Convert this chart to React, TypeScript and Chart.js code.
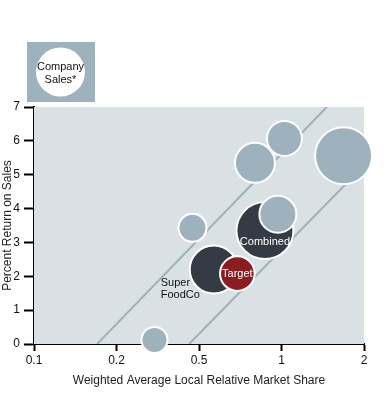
import React, { useEffect, useRef } from "react";
import { Chart, registerables } from "chart.js";

Chart.register(...registerables);

// Axis ticks (market share) and y range
const xTickValues = [0.1, 0.2, 0.5, 1, 2];
const yMin = 0;
const yMax = 7;

// Bubble data: market share, return on sales, company sales (bubble radius units)
const companyNames = ["", "", "", "", "", "Super FoodCo", "Target", "Combined", ""];
const marketShare = [0.305, 0.465, 0.8, 1.025, 1.684, 0.566, 0.69, 0.87, 0.97];
const returnOnSales = [0.12, 3.43, 5.35, 6.07, 5.56, 2.2, 2.08, 3.35, 3.83];
const companySales = [13, 14, 20, 17.5, 28.5, 24, 17.3, 28.5, 18.5];
const companyKind = ["peer", "peer", "peer", "peer", "peer", "dark", "target", "dark", "peer"];

// Diagonal reference bands (market share, return on sales)
const upperLineX = [0.17, 1.463];
const upperLineY = [0, 7];
const lowerLineX = [0.448, 2];
const lowerLineY = [0, 5.27];

const LIGHT = "#9db2bc";
const DARK = "#343b45";
const RED = "#8b1d21";
const PLOT_BG = "#d9e1e4";
const FONT = "'Liberation Sans', Arial, Helvetica, sans-serif";

// Map market share onto evenly spaced tick positions (log within each segment)
function toAxis(v: number): number {
  for (let i = 0; i < xTickValues.length - 1; i++) {
    const a = xTickValues[i];
    const b = xTickValues[i + 1];
    if (v <= b || i === xTickValues.length - 2) {
      return i + Math.log(v / a) / Math.log(b / a);
    }
  }
  return 0;
}

const colorOf = (k: string) => (k === "dark" ? DARK : k === "target" ? RED : LIGHT);

export default function App() {
  const ref = useRef<HTMLCanvasElement | null>(null);

  useEffect(() => {
    if (!ref.current) return;

    const bgPlugin = {
      id: "plotBg",
      beforeDatasetsDraw(chart: any) {
        const { ctx, chartArea } = chart;
        ctx.save();
        ctx.fillStyle = PLOT_BG;
        ctx.fillRect(chartArea.left, chartArea.top, chartArea.right - chartArea.left, chartArea.bottom - chartArea.top);
        ctx.restore();
      },
    };

    const legendPlugin = {
      id: "sizeLegend",
      afterDraw(chart: any) {
        const { ctx } = chart;
        ctx.save();
        ctx.fillStyle = LIGHT;
        ctx.fillRect(27, 42, 68, 60);
        ctx.beginPath();
        ctx.arc(60.5, 72, 24.5, 0, Math.PI * 2);
        ctx.fillStyle = "#ffffff";
        ctx.fill();
        ctx.fillStyle = "#111";
        ctx.font = `11px ${FONT}`;
        ctx.textAlign = "center";
        ctx.textBaseline = "middle";
        ctx.fillText("Company", 60.5, 66.5);
        ctx.fillText("Sales*", 60.5, 80);
        ctx.restore();
      },
    };

    const labelPlugin = {
      id: "bubbleLabels",
      afterDatasetsDraw(chart: any) {
        const { ctx } = chart;
        const meta = chart.getDatasetMeta(0);
        ctx.save();
        ctx.font = `11px ${FONT}`;
        ctx.textBaseline = "middle";
        companyNames.forEach((name, i) => {
          if (!name) return;
          const el = meta.data[i];
          if (name === "Combined") {
            ctx.fillStyle = "#ffffff";
            ctx.textAlign = "center";
            ctx.fillText(name, el.x, el.y + 11);
          } else if (name === "Target") {
            ctx.fillStyle = "#ffffff";
            ctx.textAlign = "center";
            ctx.fillText(name, el.x, el.y);
          } else {
            ctx.fillStyle = "#111";
            ctx.textAlign = "left";
            const parts = name.split(" ");
            ctx.fillText(parts[0], el.x - 53, el.y + 13);
            ctx.fillText(parts[1], el.x - 53, el.y + 25);
          }
        });
        ctx.restore();
      },
    };

    const bubbleData = marketShare.map((v, i) => ({
      x: toAxis(v),
      y: returnOnSales[i],
      r: companySales[i],
    }));

    const chart = new Chart(ref.current, {
      type: "bubble",
      data: {
        datasets: [
          {
            type: "bubble",
            data: bubbleData,
            backgroundColor: companyKind.map(colorOf),
            hoverBackgroundColor: companyKind.map(colorOf),
            borderColor: "#ffffff",
            hoverBorderColor: "#ffffff",
            borderWidth: 2,
            hoverBorderWidth: 2,
            clip: false,
          } as any,
          {
            type: "line",
            data: upperLineX.map((v, i) => ({ x: toAxis(v), y: upperLineY[i] })),
            borderColor: LIGHT,
            borderWidth: 2,
            pointRadius: 0,
            fill: false,
          } as any,
          {
            type: "line",
            data: lowerLineX.map((v, i) => ({ x: toAxis(v), y: lowerLineY[i] })),
            borderColor: LIGHT,
            borderWidth: 2,
            pointRadius: 0,
            fill: false,
          } as any,
        ],
      },
      options: {
        responsive: false,
        animation: false,
        devicePixelRatio: 1,
        events: [],
        layout: { autoPadding: false, padding: { top: 107, right: 24, left: 0, bottom: 0 } },
        plugins: {
          legend: { display: false },
          tooltip: { enabled: false },
        },
        scales: {
          x: {
            type: "linear",
            min: 0,
            max: xTickValues.length - 1,
            ticks: {
              stepSize: 1,
              autoSkip: false,
              maxRotation: 0,
              padding: 2,
              color: "#111",
              font: { size: 12, family: FONT },
              callback: (v: any) => {
                const t = xTickValues[Math.round(Number(v))];
                return t === undefined ? "" : String(t);
              },
            },
            grid: {
              drawOnChartArea: false,
              drawTicks: true,
              tickLength: 7,
              tickWidth: 2,
              color: "#000",
            },
            border: { display: true, color: "#000", width: 2 },
            title: {
              display: true,
              text: "Weighted Average Local Relative Market Share",
              color: "#222",
              font: { size: 12, family: FONT },
              padding: { top: 0, bottom: 12 },
            },
            afterFit: (s: any) => {
              s.height = 56;
            },
          },
          y: {
            type: "linear",
            min: yMin,
            max: yMax,
            ticks: {
              stepSize: 1,
              padding: 4,
              color: "#111",
              font: { size: 12, family: FONT },
            },
            grid: {
              drawOnChartArea: false,
              drawTicks: true,
              tickLength: 10,
              tickWidth: 2,
              color: "#000",
            },
            border: { display: true, color: "#000", width: 2 },
            title: {
              display: true,
              text: "Percent Return on Sales",
              color: "#222",
              font: { size: 12, family: FONT },
              padding: { top: 0, bottom: 0 },
            },
            afterFit: (s: any) => {
              s.width = 34;
            },
          },
        },
      } as any,
      plugins: [bgPlugin, legendPlugin, labelPlugin],
    });

    return () => chart.destroy();
  }, []);

  return (
    <div style={{ position: "fixed", left: 0, top: 0, width: 388, height: 400, background: "#fff" }}>
      <canvas ref={ref} width={388} height={400} />
    </div>
  );
}
